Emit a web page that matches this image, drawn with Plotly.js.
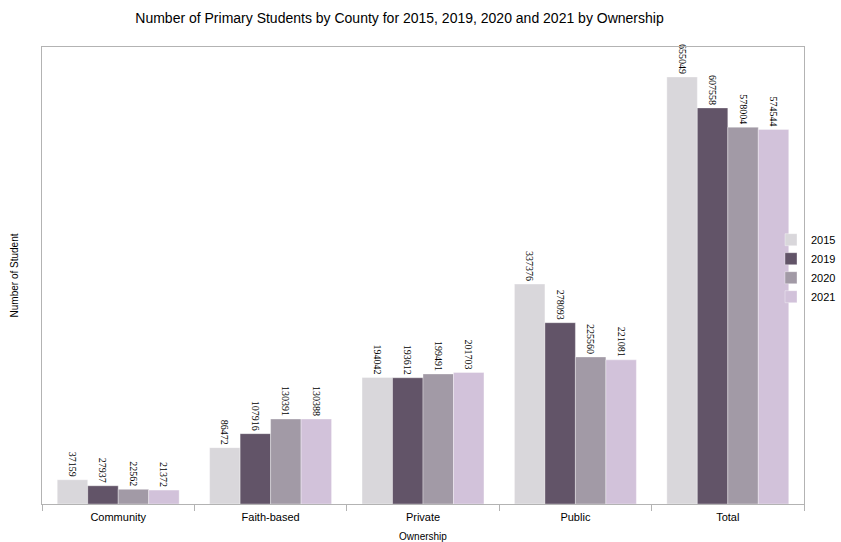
<!DOCTYPE html>
<html>
<head>
<meta charset="utf-8">
<script src="https://cdn.plot.ly/plotly-3.0.1.min.js"></script>
<style>html,body{margin:0;padding:0;background:#fff;}#chart{width:841px;height:542px;}</style>
</head>
<body>
<div id="chart"></div>
<script>
const categories = ["Community", "Faith-based", "Private", "Public", "Total"];
const years = ["2015", "2019", "2020", "2021"];
const values2015 = [37159, 86472, 194042, 337376, 655049];
const values2019 = [27937, 107916, 193612, 278093, 607558];
const values2020 = [22562, 130391, 199491, 225560, 578004];
const values2021 = [21372, 130388, 201703, 221081, 574544];
const seriesValues = [values2015, values2019, values2020, values2021];
const colors = ["#d9d7db", "#625468", "#a29aa6", "#d2c2da"];

const traces = seriesValues.map((vals, i) => ({
  type: "bar",
  name: years[i],
  x: categories,
  y: vals,
  text: vals.map(String),
  textposition: "outside",
  textangle: 90,
  constraintext: "none",
  cliponaxis: false,
  textfont: {family: "Liberation Serif", size: 10, color: "#000"},
  marker: {color: colors[i], line: {color: "rgba(255,255,255,0.35)", width: 1}},
  hoverinfo: "x+y+name"
}));

// plot area: x 42..804, y 47..504
const L = 42, R = 0, plotRight = 804;
const areaW = 841 - L - R;

const layout = {
  width: 841, height: 542,
  margin: {l: L, r: R, t: 47, b: 38},
  paper_bgcolor: "#fff", plot_bgcolor: "#fff",
  font: {family: "Liberation Sans", color: "#000", size: 11},
  title: {
    text: "Number of Primary Students by County for 2015, 2019, 2020 and 2021 by Ownership",
    font: {family: "Liberation Sans", size: 14, color: "#000"},
    x: 399.5 / 841, xanchor: "center", xref: "container",
    y: 1 - 18 / 542, yanchor: "middle", yref: "container"
  },
  barmode: "group",
  bargap: 0.2,
  bargroupgap: 0,
  xaxis: {
    type: "category",
    domain: [0, (plotRight - L) / areaW],
    showline: true, linecolor: "#b3b3b3", linewidth: 1, mirror: true,
    ticks: "outside", tickson: "boundaries", ticklen: 6, tickcolor: "#b3b3b3",
    ticklabelstandoff: 3,
    tickfont: {family: "Liberation Sans", size: 11, color: "#000"},
    showgrid: false, zeroline: false,
    title: {text: "Ownership", font: {family: "Liberation Sans", size: 10, color: "#000"}, standoff: 12}
  },
  yaxis: {
    range: [0, 701000],
    showline: true, linecolor: "#b3b3b3", linewidth: 1, mirror: true,
    showticklabels: false, ticks: "", showgrid: false, zeroline: false,
    title: {text: "Number of Student", font: {family: "Liberation Sans", size: 10, color: "#000"}, standoff: 20}
  },
  showlegend: true,
  legend: {
    x: 1, xanchor: "right", y: 0.516, yanchor: "middle",
    font: {family: "Liberation Sans", size: 11, color: "#000"},
    tracegroupgap: 0, itemwidth: 30, bgcolor: "rgba(0,0,0,0)"
  }
};

Plotly.newPlot("chart", traces, layout, {displayModeBar: false, staticPlot: true});
</script>
</body>
</html>
